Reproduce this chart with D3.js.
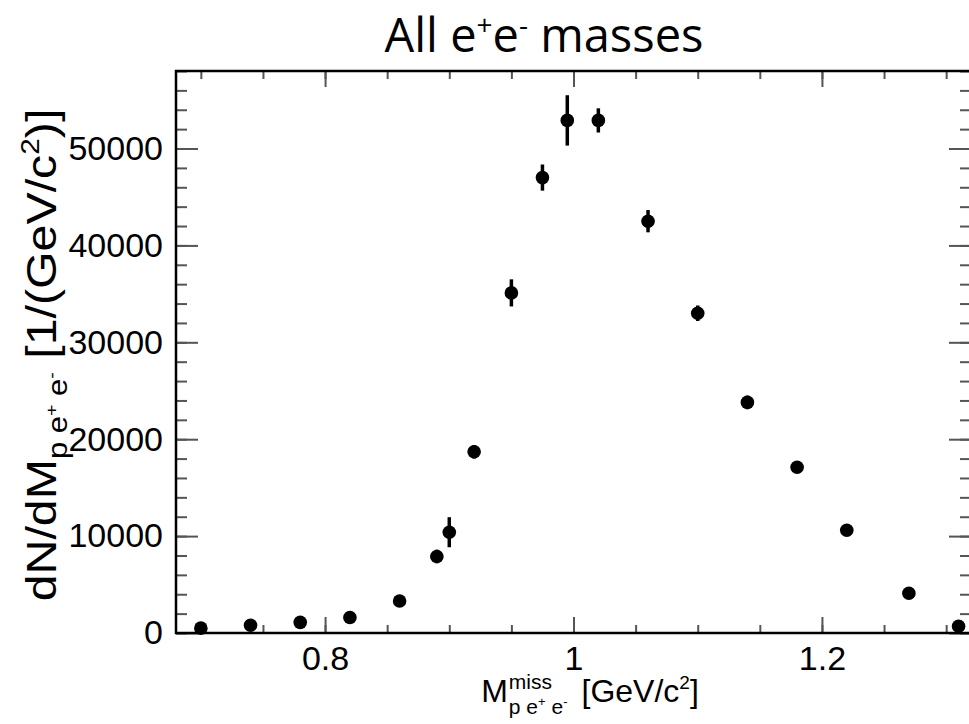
<!DOCTYPE html>
<html>
<head>
<meta charset="utf-8">
<script src="https://cdn.jsdelivr.net/npm/d3@7"></script>
<style>
  body { margin: 0; background: #fff; }
  svg text { font-family: "Liberation Sans", Arial, sans-serif; }
</style>
</head>
<body>
<div id="chart"></div>
<script>
// data
const masses = [0.70, 0.74, 0.78, 0.82, 0.86, 0.89, 0.90, 0.92, 0.95, 0.975, 0.995, 1.02, 1.06, 1.10, 1.14, 1.18, 1.22, 1.27, 1.31];
const counts = [500, 800, 1100, 1600, 3300, 7900, 10400, 18700, 35100, 47000, 52900, 52900, 42500, 33000, 23800, 17100, 10600, 4100, 700];
const errors = [150, 200, 250, 300, 500, 700, 1550, 700, 1400, 1350, 2600, 1250, 1150, 800, 700, 500, 400, 300, 200];
const xMajor = [0.8, 1.0, 1.2];
const xMinor = d3.range(0.70, 1.301, 0.05);
const yMajor = [0, 10000, 20000, 30000, 40000, 50000];
const yMinor = d3.range(0, 58001, 2000);

const width = 969, height = 724;
const margin = { top: 71, right: -2, bottom: 91, left: 176 };

const svg = d3.select("#chart").append("svg")
  .attr("width", width)
  .attr("height", height);

const x = d3.scaleLinear()
  .domain([0.68, 1.32])
  .range([margin.left, width - margin.right]);

const y = d3.scaleLinear()
  .domain([0, 58000])
  .range([height - margin.bottom, margin.top]);

const tickCol = "#555";
const labelSize = 34;

// ticks, inward, on all four sides
function ticks(axis, tr) {
  const g = svg.append("g").attr("transform", tr).call(axis);
  g.select(".domain").remove();
  g.selectAll("line").attr("stroke", tickCol).attr("stroke-width", 2);
  g.selectAll("text").attr("fill", "#000").attr("font-size", labelSize);
  return g;
}
const yb = height - margin.bottom;
const xr = x.range()[1];
ticks(d3.axisBottom(x).tickValues(xMinor).tickSize(-8).tickFormat(""), `translate(0,${yb})`);
ticks(d3.axisBottom(x).tickValues(xMajor).tickSize(-16).tickPadding(13).tickFormat(d => d3.format("~g")(d)), `translate(0,${yb})`);
ticks(d3.axisTop(x).tickValues(xMinor).tickSize(-8).tickFormat(""), `translate(0,${margin.top})`);
ticks(d3.axisTop(x).tickValues(xMajor).tickSize(-16).tickFormat(""), `translate(0,${margin.top})`);
ticks(d3.axisLeft(y).tickValues(yMinor).tickSize(-11).tickFormat(""), `translate(${margin.left},0)`);
ticks(d3.axisLeft(y).tickValues(yMajor).tickSize(-22).tickPadding(13).tickFormat(d3.format("d")), `translate(${margin.left},0)`);
ticks(d3.axisRight(y).tickValues(yMinor).tickSize(-11).tickFormat(""), `translate(${xr},0)`);
ticks(d3.axisRight(y).tickValues(yMajor).tickSize(-22).tickFormat(""), `translate(${xr},0)`);

// frame
svg.append("rect")
  .attr("x", margin.left).attr("y", margin.top)
  .attr("width", xr - margin.left)
  .attr("height", yb - margin.top)
  .attr("fill", "none").attr("stroke", "#000").attr("stroke-width", 2.5);

const pts = masses.map((m, i) => ({ m, c: counts[i], e: errors[i] }));

// error bars
svg.append("g").selectAll("line").data(pts).join("line")
  .attr("x1", d => x(d.m)).attr("x2", d => x(d.m))
  .attr("y1", d => y(d.c - d.e)).attr("y2", d => y(d.c + d.e))
  .attr("stroke", "#000").attr("stroke-width", 3.5);

// markers
svg.append("g").selectAll("circle").data(pts).join("circle")
  .attr("cx", d => x(d.m)).attr("cy", d => y(d.c))
  .attr("r", 6.8).attr("fill", "#000");

// title
const title = svg.append("text")
  .attr("x", 544).attr("y", 52)
  .attr("text-anchor", "middle")
  .attr("font-size", 47)
  .style("font-family", "'Open Sans', 'Noto Sans', sans-serif");
title.append("tspan").text("All e");
title.append("tspan").attr("font-size", 28).attr("dy", -17).text("+");
title.append("tspan").attr("dy", 17).text("e");
title.append("tspan").attr("font-size", 28).attr("dy", -17).text("-");
title.append("tspan").attr("dy", 17).text(" masses");

// x axis title, pieces placed after measuring
const xg = svg.append("g");
const xBase = 702, xFs = 32, xSmall = 21;
const mT = xg.append("text").attr("font-size", xFs).attr("y", xBase).text("M");
const supT = xg.append("text").attr("font-size", xSmall).attr("y", xBase - 13).text("miss");
const subT = xg.append("text").attr("font-size", xSmall).attr("y", xBase + 12);
subT.append("tspan").text("p e");
subT.append("tspan").attr("font-size", 13).attr("dy", -8).text("+");
subT.append("tspan").attr("dy", 8).text(" e");
subT.append("tspan").attr("font-size", 13).attr("dy", -8).text("-");
const unitT = xg.append("text").attr("font-size", xFs).attr("y", xBase);
unitT.append("tspan").text("[GeV/c");
unitT.append("tspan").attr("font-size", 19).attr("dy", -13).text("2");
unitT.append("tspan").attr("dy", 13).text("]");
const mW = mT.node().getComputedTextLength();
const sW = Math.max(supT.node().getComputedTextLength(), subT.node().getComputedTextLength());
const uW = unitT.node().getComputedTextLength();
const gap = 14;
const total = mW + 1 + sW + gap + uW;
const x0 = 590 - total / 2;
mT.attr("x", x0);
supT.attr("x", x0 + mW + 1);
subT.attr("x", x0 + mW + 1);
unitT.attr("x", x0 + mW + 1 + sW + gap);

// y axis title (stretched along its length like the reference)
const yFs = 42;
const yt = svg.append("text")
  .attr("transform", `translate(56,355) rotate(-90) scale(1.15,1)`)
  .attr("text-anchor", "middle")
  .attr("font-size", yFs);
yt.append("tspan").text("dN/dM");
yt.append("tspan").attr("font-size", 27).attr("dy", 11).text("p e");
yt.append("tspan").attr("font-size", 17).attr("dy", -10).text("+");
yt.append("tspan").attr("font-size", 27).attr("dy", 10).text(" e");
yt.append("tspan").attr("font-size", 17).attr("dy", -10).text("-");
yt.append("tspan").attr("dy", -1).text("  [1/(GeV/c");
yt.append("tspan").attr("font-size", 26).attr("dy", -17).text("2");
yt.append("tspan").attr("dy", 17).text(")]");
</script>
</body>
</html>
